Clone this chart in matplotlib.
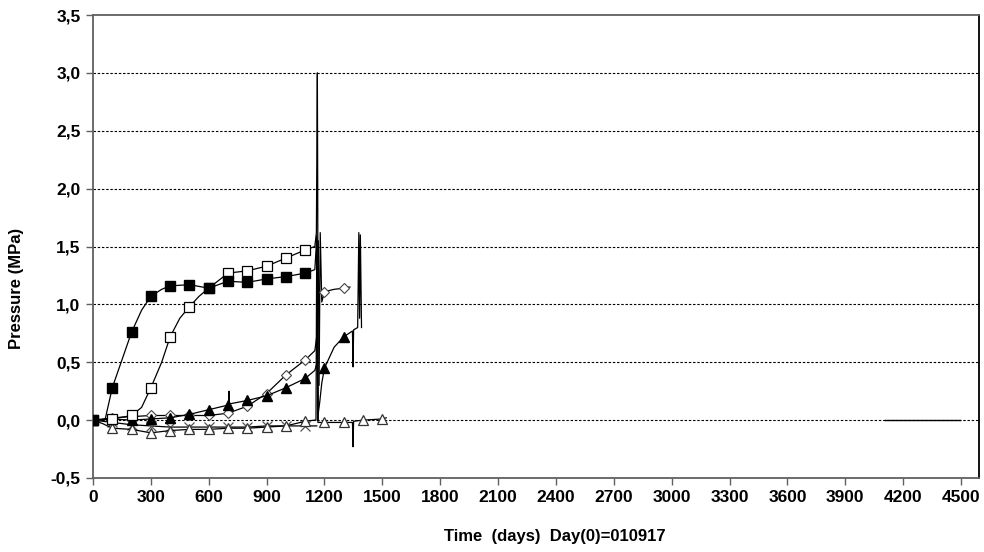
import matplotlib
matplotlib.use("Agg")
import matplotlib.pyplot as plt
from matplotlib.ticker import FixedLocator, FuncFormatter

plt.rcParams['font.family'] = ['Liberation Sans', 'DejaVu Sans']

# Pressure readings (MPa) against time (days since day 0)
sq_filled_days = [0, 62, 100, 200, 252, 300, 356, 400, 500, 600, 700, 800, 900, 1000, 1100, 1150, 1160, 1166]
sq_filled_mpa = [0.0, 0.0, 0.28, 0.76, 0.95, 1.07, 1.13, 1.16, 1.17, 1.14, 1.20, 1.19, 1.22, 1.24, 1.27, 1.30, 1.58, 0.0]

sq_open_days = [0, 100, 200, 252, 300, 356, 400, 450, 500, 550, 600, 700, 800, 900, 1000, 1100, 1150, 1158, 1163, 1165, 1167]
sq_open_mpa = [0.0, 0.01, 0.04, 0.11, 0.28, 0.50, 0.72, 0.88, 0.98, 1.07, 1.14, 1.27, 1.29, 1.33, 1.40, 1.47, 1.50, 1.62, 3.0, 1.95, 0.0]

diamond_days = [0, 100, 200, 300, 400, 500, 600, 700, 800, 900, 1000, 1100, 1150, 1162, 1168, 1172, 1178, 1186, 1200, 1250, 1300, 1332]
diamond_mpa = [0.0, 0.02, 0.03, 0.04, 0.04, 0.04, 0.04, 0.06, 0.12, 0.23, 0.39, 0.52, 0.60, 0.75, 1.55, 0.30, 1.62, 1.02, 1.11, 1.13, 1.14, 1.15]

tri_filled_days = [0, 100, 200, 300, 400, 500, 600, 700, 703, 705, 707, 800, 900, 1000, 1100, 1150, 1162, 1167, 1175, 1186,
                   1200, 1250, 1300, 1345, 1348, 1351, 1372, 1378, 1382, 1386, 1392]
tri_filled_mpa = [0.0, 0.01, 0.0, 0.01, 0.02, 0.05, 0.09, 0.13, 0.14, 0.25, 0.14, 0.17, 0.21, 0.28, 0.36, 0.43, 0.50, 0.05, 0.15, 0.32,
                  0.45, 0.63, 0.72, 0.77, 0.46, 0.78, 0.80, 1.62, 0.88, 1.60, 0.80]

tri_open_days = [0, 50, 100, 200, 300, 400, 500, 600, 700, 800, 900, 1000, 1100, 1150, 1156, 1160, 1166,
                 1200, 1300, 1345, 1348, 1351, 1400, 1500, 1520]
tri_open_mpa = [0.0, -0.03, -0.07, -0.08, -0.11, -0.09, -0.08, -0.08, -0.07, -0.07, -0.06, -0.05, -0.01, 0.0, 0.0, 1.60, -0.02,
                -0.02, -0.02, -0.02, -0.23, -0.01, 0.0, 0.01, 0.02]

cross_days = [0, 100, 200, 300, 400, 500, 600, 700, 800, 900, 1000, 1100, 1160]
cross_mpa = [0.0, -0.02, -0.04, -0.05, -0.06, -0.06, -0.06, -0.06, -0.06, -0.05, -0.05, -0.05, -0.05]

late_days = [4105, 4495]
late_mpa = [0.0, 0.0]

x_ticks = list(range(0, 4501, 300))
y_ticks = [-0.5, 0.0, 0.5, 1.0, 1.5, 2.0, 2.5, 3.0, 3.5]

fig = plt.figure(figsize=(9.84, 5.52), dpi=100)
ax = fig.add_axes([93 / 984, 1 - 478 / 552, (979 - 93) / 984, (478 - 15) / 552])

for yv in y_ticks[1:-1]:
    ax.axhline(yv, color='black', lw=0.8, ls=(0, (2.2, 1.6)), zorder=1)


def every_reading(days):
    return [i for i, d in enumerate(days) if d % 100 == 0]


line_kw = dict(color='black', lw=0.9, zorder=3)
ax.plot(cross_days, cross_mpa, marker='x', ms=6.5, mew=0.9, mec='#555555',
        markevery=every_reading(cross_days), **line_kw)
ax.plot(tri_open_days, tri_open_mpa, marker='^', ms=7, mfc='white', mec='#333333', mew=0.9,
        markevery=every_reading(tri_open_days), **line_kw)
ax.plot(diamond_days, diamond_mpa, marker='D', ms=5.5, mfc='white', mec='#444444', mew=0.8,
        markevery=every_reading(diamond_days), **line_kw)
ax.plot(tri_filled_days, tri_filled_mpa, marker='^', ms=7.5, mfc='black', mec='black',
        markevery=every_reading(tri_filled_days), **line_kw)
ax.plot(sq_open_days, sq_open_mpa, marker='s', ms=6.5, mfc='white', mec='black', mew=0.9,
        markevery=every_reading(sq_open_days), **line_kw)
ax.plot(sq_filled_days, sq_filled_mpa, marker='s', ms=7, mfc='black', mec='black',
        markevery=every_reading(sq_filled_days), **line_kw)
ax.plot(late_days, late_mpa, color='black', lw=1.0, zorder=3)

ax.set_xlim(0, 4593)
ax.set_ylim(-0.5, 3.5)
ax.xaxis.set_major_locator(FixedLocator(x_ticks))
ax.yaxis.set_major_locator(FixedLocator(y_ticks))
ax.yaxis.set_major_formatter(FuncFormatter(lambda v, p: f"{v:.1f}".replace('.', ',')))
ax.xaxis.set_major_formatter(FuncFormatter(lambda v, p: f"{int(v)}"))

for side in ['left', 'bottom', 'top', 'right']:
    ax.spines[side].set_color('#606060')
    ax.spines[side].set_linewidth(1.3)
ax.spines['right'].set_color('black')
ax.tick_params(axis='both', direction='out', length=5, width=1.0, color='#606060',
               labelsize=12.5, pad=4)
for lab in ax.get_xticklabels() + ax.get_yticklabels():
    lab.set_fontweight('bold')

fig.text(555 / 984, 1 - 537 / 552, "Time  (days)  Day(0)=010917", ha='center', va='center',
         fontsize=12, fontweight='bold')
fig.text(17 / 984, 1 - 288 / 552, "Pressure (MPa)", ha='center', va='center', rotation=90,
         fontsize=12, fontweight='bold')

fig.savefig("out.png", dpi=100)
